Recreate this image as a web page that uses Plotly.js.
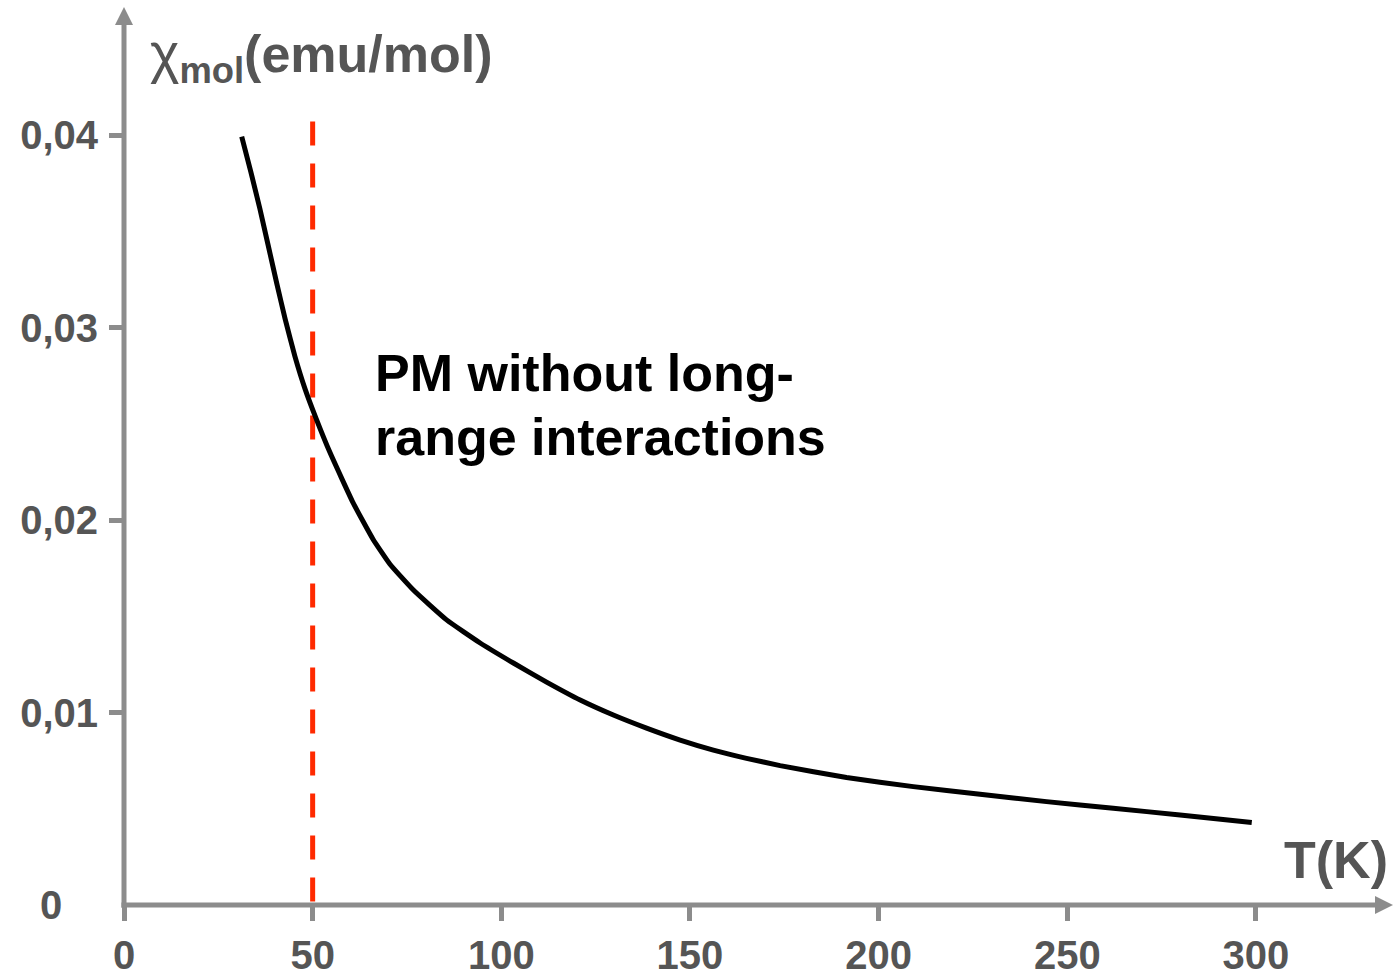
<!DOCTYPE html>
<html>
<head>
<meta charset="utf-8">
<script src="https://cdn.plot.ly/plotly-3.0.1.min.js"></script>
<style>html,body{margin:0;padding:0;background:#fff;}#chart{width:1394px;height:977px;}</style>
</head>
<body>
<div id="chart"></div>
<script>
// Temperature (K) and molar susceptibility (emu/mol)
var temperatureK = [31.2, 33.6, 36.0, 38.2, 40.5, 42.7, 45.3, 48.0, 50.9, 54.6, 60.7, 66.0, 70.5, 76.7, 85.5, 94.4, 103.2, 112.0, 120.9, 129.7, 138.5, 147.4, 156.2, 165.0, 173.9, 191.5, 209.2, 226.9, 244.5, 262.2, 279.9, 298.9];
var chiMol = [0.03991, 0.03810, 0.03618, 0.03428, 0.03228, 0.03045, 0.02850, 0.02680, 0.02528, 0.0235, 0.0209, 0.0190, 0.0177, 0.01636, 0.01481, 0.01361, 0.01257, 0.01158, 0.01065, 0.00987, 0.00919, 0.00857, 0.00805, 0.00762, 0.00724, 0.00662, 0.00615, 0.00575, 0.00537, 0.00502, 0.00468, 0.00428];

// Dashed marker line at T = 50 K
var markerT = [50, 50];
var markerChi = [0.0407, 0];

// Axis ticks
var xTickVals = [0, 50, 100, 150, 200, 250, 300];
var xTickText = ['0', '50', '100', '150', '200', '250', '300'];
var yTickVals = [0.01, 0.02, 0.03, 0.04];
var yTickText = ['0,01', '0,02', '0,03', '0,04'];

var FONT = '"Liberation Sans", Arial, Helvetica, sans-serif';
var AXIS_GRAY = '#8c8c8c';
var TEXT_GRAY = '#555555';

var traces = [
  {
    x: markerT, y: markerChi, type: 'scatter', mode: 'lines',
    line: {color: '#ff2a00', width: 5, dash: '24px,18px'},
    hoverinfo: 'skip', showlegend: false
  },
  {
    x: temperatureK, y: chiMol, type: 'scatter', mode: 'lines',
    line: {color: '#000000', width: 5, shape: 'spline', smoothing: 0.4},
    showlegend: false
  }
];

// Plot area: 1270 x 900 px; arrow tips in paper fractions
var xTip = 1269 / 1270, yTip = 898 / 900;
var headLenX = 18 / 1270, headHalfY = 9 / 900;
var headLenY = 18 / 900, headHalfX = 9 / 1270;

var layout = {
  width: 1394, height: 977,
  margin: {l: 124, r: 0, t: 5, b: 72, pad: 0},
  paper_bgcolor: '#ffffff', plot_bgcolor: '#ffffff',
  showlegend: false,
  font: {family: FONT},
  xaxis: {
    range: [0, 336.6], showgrid: false, zeroline: false, showline: false,
    tickmode: 'array', tickvals: xTickVals, ticktext: xTickText,
    ticks: 'outside', ticklen: 15, tickwidth: 5, tickcolor: AXIS_GRAY,
    tickfont: {family: FONT, size: 40, color: TEXT_GRAY, weight: 'bold'},
    fixedrange: true
  },
  yaxis: {
    range: [0, 0.046753], showgrid: false, zeroline: false, showline: false,
    tickmode: 'array', tickvals: yTickVals, ticktext: yTickText,
    ticks: 'outside', ticklen: 14, tickwidth: 5, tickcolor: AXIS_GRAY,
    ticklabelstandoff: 3,
    tickfont: {family: FONT, size: 40, color: TEXT_GRAY, weight: 'bold'},
    fixedrange: true
  },
  shapes: [
    {type: 'line', xref: 'paper', yref: 'paper', x0: -0.002, y0: 0, x1: xTip - headLenX + 0.001, y1: 0,
     line: {color: AXIS_GRAY, width: 5}},
    {type: 'line', xref: 'paper', yref: 'paper', x0: 0, y0: -0.003, x1: 0, y1: yTip - headLenY + 0.001,
     line: {color: AXIS_GRAY, width: 5}},
    {type: 'path', xref: 'paper', yref: 'paper',
     path: 'M ' + xTip + ',0 L ' + (xTip - headLenX) + ',' + headHalfY + ' L ' + (xTip - headLenX) + ',' + (-headHalfY) + ' Z',
     fillcolor: AXIS_GRAY, line: {width: 0}},
    {type: 'path', xref: 'paper', yref: 'paper',
     path: 'M 0,' + yTip + ' L ' + headHalfX + ',' + (yTip - headLenY) + ' L ' + (-headHalfX) + ',' + (yTip - headLenY) + ' Z',
     fillcolor: AXIS_GRAY, line: {width: 0}}
  ],
  annotations: [
    {x: (51 - 124) / 1270, y: 0, xref: 'paper', yref: 'paper', showarrow: false, text: '0',
     xanchor: 'center', yanchor: 'middle',
     font: {family: FONT, size: 40, color: TEXT_GRAY, weight: 'bold'}},
    {x: 6.4, y: 0.0441, xref: 'x', yref: 'y', showarrow: false,
     text: '<span style="font-weight:normal;font-size:56px">χ</span><sub>mol</sub>(emu/mol)',
     xanchor: 'left', yanchor: 'middle',
     font: {family: FONT, size: 52, color: TEXT_GRAY, weight: 'bold'}},
    {x: 335.5, y: 0.00234, xref: 'x', yref: 'y', showarrow: false, text: 'T(K)',
     xanchor: 'right', yanchor: 'middle',
     font: {family: FONT, size: 52, color: TEXT_GRAY, weight: 'bold'}},
    {x: 66, y: (905 - 373) / 19250, xref: 'x', yref: 'y', showarrow: false,
     text: 'PM without long-', xanchor: 'left', yanchor: 'middle',
     font: {family: FONT, size: 52, color: '#000000', weight: 'bold'}},
    {x: 66, y: (905 - 437) / 19250, xref: 'x', yref: 'y', showarrow: false,
     text: 'range interactions', xanchor: 'left', yanchor: 'middle',
     font: {family: FONT, size: 52, color: '#000000', weight: 'bold'}}
  ]
};

Plotly.newPlot('chart', traces, layout, {displayModeBar: false, staticPlot: true});
</script>
</body>
</html>
